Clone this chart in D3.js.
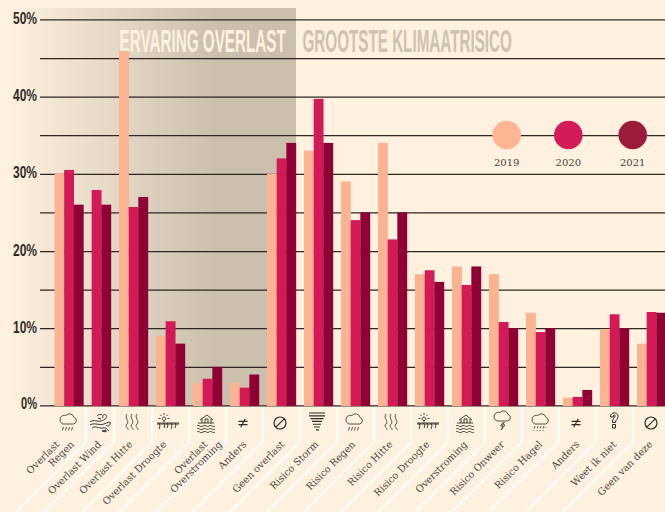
<!DOCTYPE html>
<html><head><meta charset="utf-8">
<script src="https://cdn.jsdelivr.net/npm/d3@7/dist/d3.min.js"></script>
<style>
html,body{margin:0;padding:0;background:#fef1df;overflow:hidden}
svg{display:block}
</style></head><body>
<svg id="c" width="665" height="512"></svg>
<script>
const categories = ["Overlast Regen","Overlast Wind","Overlast Hitte","Overlast Droogte","Overlast Overstroming","Anders","Geen overlast","Risico Storm","Risico Regen","Risico Hitte","Risico Droogte","Overstroming","Risico Onweer","Risico Hagel","Anders ","Weet ik niet","Geen van deze"];
const labelLines = [["Overlast","Regen"],["Overlast Wind"],["Overlast Hitte"],["Overlast Droogte"],["Overlast","Overstroming"],["Anders"],["Geen overlast"],["Risico Storm"],["Risico Regen"],["Risico Hitte"],["Risico Droogte"],["Overstroming"],["Risico Onweer"],["Risico Hagel"],["Anders"],["Weet ik niet"],["Geen van deze"]];
const iconNames = ["rain","wind","heat","drought","flood","neq","none","tornado","rain","heat","drought","flood","storm","hail","neq","question","none"];
const years = ["2019","2020","2021"];
const values2019 = [30,null,45.9,9,2.9,2.9,30,33,29,34,17,18,17,12,1,9.9,8];
const values2020 = [30.5,27.9,25.7,10.9,3.45,2.3,32,39.7,24,21.5,17.5,15.6,10.8,9.5,1.1,11.8,12.1];
const values2021 = [26,26,27,8,5,4,34,34,25,25,16,18,10,10,2,10,12];
const yTicks = [0,5,10,15,20,25,30,35,40,45,50];
const titleLeft = "ERVARING OVERLAST";
const titleRight = "GROOTSTE KLIMAATRISICO";

const seriesByYear = {"2019":values2019,"2020":values2020,"2021":values2021};
const colors = d3.scaleOrdinal(years,["#fbb391","#d31a57","#8f0035"]);
const legendColors = d3.scaleOrdinal(years,["#fcb694","#d41b57","#9b1b3b"]);

const BG="#fef1df", BAND="#cbbfad", INK="#2d2723";
const svg = d3.select("#c");
const y = d3.scaleLinear().domain([0,50]).range([405.4,19.4]);
const x0 = d3.scaleOrdinal(categories,[54.5,82].concat(d3.range(15).map(i=>119+37*i)));
const x1 = d3.scaleBand().domain(years).range([0,29]);
const legendX = d3.scaleOrdinal(years,[506.7,568.3,632.7]);

const grad = svg.append("defs").append("linearGradient").attr("id","band")
  .attr("gradientUnits","userSpaceOnUse").attr("x1",8).attr("x2",296).attr("y1",0).attr("y2",0);
grad.append("stop").attr("offset",0).attr("stop-color",BG);
grad.append("stop").attr("offset",0.72).attr("stop-color",BAND);
grad.append("stop").attr("offset",1).attr("stop-color",BAND);

svg.append("rect").attr("x",0).attr("y",8).attr("width",296).attr("height",397.5).attr("fill","url(#band)");

// separators under the axis
const seps = [86,114,152,189,226,263,300,337,374,411,448,485,522,559,596,633];
const sepLine = d3.line();
svg.append("g").selectAll("path").data(seps).join("path")
  .attr("d",s=>sepLine([[s,407],[s,442],[s-70,512]]))
  .attr("fill","none").attr("stroke","#fffdf9").attr("stroke-width",2.4);

// axis + gridlines
const NARROW = "'Liberation Sans Narrow','Liberation Sans',Roboto,sans-serif";
const axis = d3.axisLeft(y).tickValues(yTicks).tickSize(-625).tickPadding(3)
  .tickFormat(d=>d%10===0?d+"%":"");
const gAxis = svg.append("g").attr("transform","translate(40,0)").call(axis);
gAxis.select(".domain").remove();
gAxis.selectAll(".tick line").attr("stroke",INK).attr("stroke-width",1.25);
gAxis.selectAll(".tick text")
  .attr("font-family",NARROW).attr("font-weight",700).attr("font-size",17)
  .attr("fill","#2f2a26").attr("dy","0.3em")
  .attr("y",d=>d===0?-2.5:-1)
  .each(function(d){ if(d%10===0) d3.select(this).attr("textLength",(d+"%").length*8).attr("lengthAdjust","spacingAndGlyphs"); });

// titles, squeezed horizontally to the reference's condensed width
function title(text,x,w,fill){
  const t=svg.append("text").text(text)
    .attr("font-family",NARROW).attr("font-weight",700).attr("font-size",32).attr("fill",fill);
  const natural=t.node().getComputedTextLength();
  t.attr("transform",`translate(${x},51.5) scale(${w/natural},1)`);
}
title(titleLeft,119.5,166.5,BG);
title(titleRight,302.5,209.5,"#cdc2b1");

// bars
years.forEach(yr=>{
  svg.append("g").selectAll("rect")
    .data(categories.map((c,i)=>({c,v:seriesByYear[yr][i]})).filter(d=>d.v!==null))
    .join("rect")
    .attr("x",d=>x0(d.c)+x1(yr))
    .attr("y",d=>y(d.v))
    .attr("width",x1.bandwidth()+0.2)
    .attr("height",d=>y(0)+0.6-y(d.v))
    .attr("fill",colors(yr));
});

// legend
const leg = svg.append("g").selectAll("g").data(years).join("g")
  .attr("transform",d=>`translate(${legendX(d)},135)`);
leg.append("circle").attr("r",14.3).attr("fill",d=>legendColors(d));
leg.append("text").text(d=>d).attr("y",31).attr("text-anchor","middle")
  .attr("font-family","'DejaVu Serif',serif").attr("font-size",10).attr("fill","#4a4038");

// icons (glyph outlines in local coordinates)
const cloud="M-5,1H5.5A3.4,3.4 0 0 0 6,-5.6A4.6,4.6 0 0 0 -2,-7.5A4.2,4.2 0 0 0 -5,1Z";
const glyphs={
  rain:cloud+"M-4.5,4l-1,3.5M-1.5,4l-1,3.5M1.5,4l-1,3.5M4.5,4l-1,3.5",
  wind:"M-10,-1C-6,-4 -3,-1 1,-2S8,-6 6,-8S2,-7 3,-5M-10,2C-5,-1 -1,3 4,1S11,-2 10,1S7,3 6,2M-8,5C-4,2 -1,6 3,5S7,7 9,8M-3,-7C-1,-9 1,-9 2,-8M-2,-5L1,-4M2,8l4,-1l0,2z",
  heat:"M-5,-8C-8,-4 -2,-1 -5,2S-3,6 -4,8M0,-8C-3,-4 3,-1 0,2S2,6 1,8M5,-8C2,-4 8,-1 5,2S7,6 6,8",
  drought:"M-4,-7a1.8,1.8 0 1 0 .01,0M-4,-9v-2M-4,-3.5v1.5M-7.5,-5.5h-2M-.5,-5.5h2M-6.5,-8l-1.3,-1.3M-1.5,-8l1.3,-1.3M-11,-1H11M-11,0H11M-9,-1l1,3l-1,3M-5,-1l2,2l-1,3M-1,-1l1,2l-1,3M3,-1l1,3l-1,3M7,-1l1,2l-1,3",
  flood:"M-6,-4L1,-9L7,-4M-4,-5V-1M5,-5V-1M-1,-1V-5H2V-1M-8,-1H8M-9,2c2,-2 3,2 6,0s4,2 6,0s4,2 6,0M-9,5c2,-2 3,2 6,0s4,2 6,0s4,2 6,0M-9,8c2,-2 3,2 6,0s4,2 6,0s4,2 6,0",
  neq:"M-4.5,-1.6H4.5M-4.5,1.6H4.5M2.3,-4.2L-2.3,4.2",
  none:"M-6,0a6,6 0 1 0 12,0a6,6 0 1 0 -12,0M4.2,-4.2L-4.2,4.2",
  tornado:"M-8,-9H8M-8,-6.2H8M-6.5,-3.4H6.5M-5,-.6H5M-4,2.2H4M-2.8,5H2.8M-1,7.8H2",
  storm:cloud+"M1.5,2L-1.5,6H1L-1,10L3,5H.7L2.5,2",
  hail:cloud+"M-5,3l-.7,2.5M-2,3l-.7,2.5M1,3l-.7,2.5M4,3l-.7,2.5M-6,7v.8M-3,7v.8M0,7v.8M3,7v.8M6,4v.8",
  question:"M-3.5,-4C-4,-9 4,-10 4,-4.5C4,-1.5 1.5,-2 1.5,1.5H-1.5C-1.5,-3 1,-3 1,-5C1,-7 -1,-6.5 -.5,-4ZM-1.5,3.5H1.5V7H-1.5Z"
};
const iconX=[68,100,132,168,206,243,280,317,354,391,428,465,502,540,576,614,651];
const iconY=[423,423,422,424,424,423,423,422,423,422,424,424,420,423,423,421,423];
const iconW={neq:1.1,none:1.2,tornado:1.15,question:1,wind:0.95,drought:0.9,flood:0.9};
svg.append("g").selectAll("path").data(iconNames).join("path")
  .attr("transform",(d,i)=>`translate(${iconX[i]},${iconY[i]})`)
  .attr("d",d=>glyphs[d]).attr("fill","none").attr("stroke","#2f2b28")
  .attr("stroke-width",d=>iconW[d]||0.8);

// category labels
const labelEnd=[60,102,133,167,208,247,285,319,356,393,430,468,505,543,580,617,653];
const labels=svg.append("g").selectAll("g").data(labelLines).join("g")
  .attr("transform",(d,i)=>`translate(${labelEnd[i]},445) rotate(-45)`);
labels.selectAll("text").data(d=>d).join("text")
  .text(d=>d).attr("text-anchor","end")
  .attr("x",(d,i)=>i*10.4).attr("y",(d,i)=>i*10.4)
  .attr("font-family","'DejaVu Serif',serif").attr("font-size",9.8).attr("fill","#4c4641");
</script>
</body></html>
